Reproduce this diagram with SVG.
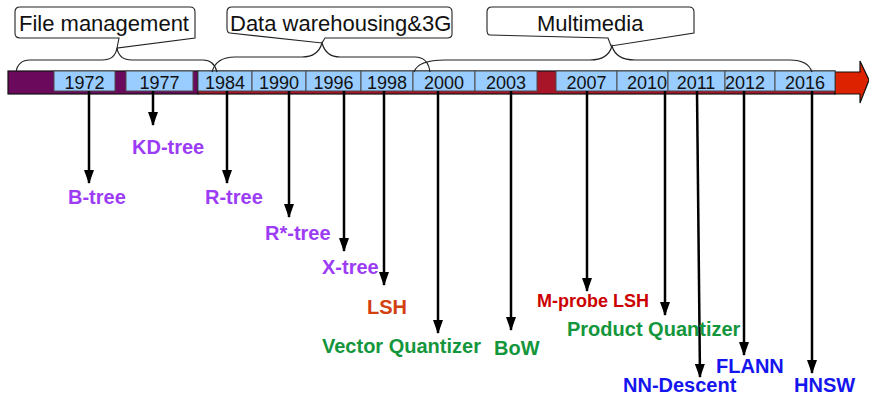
<svg xmlns="http://www.w3.org/2000/svg" width="869" height="396" viewBox="0 0 869 396">
<style>
.yr{fill:#99ccff;stroke:#4a4a4a;stroke-width:1}
.yt{font-family:"Liberation Sans",Arial,sans-serif;font-size:18px;fill:#111;text-anchor:middle}
.ct{font-family:"Liberation Sans",Arial,sans-serif;font-size:22px;fill:#111}
.cb{fill:#fff;stroke:#222;stroke-width:1.1}
.br{fill:none;stroke:#222;stroke-width:1.2}
.lb{font-family:"Liberation Sans",Arial,sans-serif;font-size:20px;font-weight:bold}
.pu{fill:#9c3cf5}.or{fill:#d2400f}.rd{fill:#cc0000}.gr{fill:#14963c}.bl{fill:#1515ee}
.cn{stroke:#000;stroke-width:2.5;fill:none;marker-end:url(#ah)}
</style>
<defs>
<marker id="ah" markerUnits="userSpaceOnUse" markerWidth="14" markerHeight="10" refX="13" refY="5" orient="auto" viewBox="0 0 14 10">
<path d="M0,0 L14,5 L0,10 Z" fill="#000"/>
</marker>
</defs>
<g id="timeline">
<rect x="8" y="71" width="190" height="23" fill="#6b0a5c" stroke="#111" stroke-width="1.2"/>
<rect x="198" y="71" width="637" height="23" fill="#a81428" stroke="#111" stroke-width="1.2"/>
<path d="M835,72 H860 V61 L869,80 L860,103 V94 H835 Z" fill="#dd2200" stroke="#111" stroke-width="1.2"/>
</g>
<g id="years">
<g id="y1972"><rect class="yr" x="54" y="71" width="61" height="20"/><text class="yt" x="84.5" y="89">1972</text></g>
<g id="y1977"><rect class="yr" x="126" y="71" width="67" height="20"/><text class="yt" x="159.5" y="89">1977</text></g>
<g id="y1984"><rect class="yr" x="198" y="71" width="54" height="20"/><text class="yt" x="225" y="89">1984</text></g>
<g id="y1990"><rect class="yr" x="252" y="71" width="54" height="20"/><text class="yt" x="279" y="89">1990</text></g>
<g id="y1996"><rect class="yr" x="306" y="71" width="55" height="20"/><text class="yt" x="333.5" y="89">1996</text></g>
<g id="y1998"><rect class="yr" x="361" y="71" width="52" height="20"/><text class="yt" x="387" y="89">1998</text></g>
<g id="y2000"><rect class="yr" x="413" y="71" width="62" height="20"/><text class="yt" x="444" y="89">2000</text></g>
<g id="y2003"><rect class="yr" x="475" y="71" width="62" height="20"/><text class="yt" x="506" y="89">2003</text></g>
<g id="y2007"><rect class="yr" x="556" y="71" width="61" height="20"/><text class="yt" x="586.5" y="89">2007</text></g>
<g id="y2010"><rect class="yr" x="617" y="71" width="51" height="20"/><text class="yt" x="647" y="89">2010</text></g>
<g id="y2011"><rect class="yr" x="668" y="71" width="57" height="20"/><text class="yt" x="696" y="89">2011</text></g>
<g id="y2012"><rect class="yr" x="725" y="71" width="50" height="20"/><text class="yt" x="745" y="89">2012</text></g>
<g id="y2016"><rect class="yr" x="775" y="71" width="60" height="20"/><text class="yt" x="805" y="89">2016</text></g>
</g>
<g id="callout-file">
<path class="cb" d="M20,7 H190 Q195,7 195,12 V38 L117,48 L119,38 H20 Q15,38 15,33 V12 Q15,7 20,7 Z"/>
<text class="ct" x="19" y="31">File management</text>
<path class="br" d="M16,72 Q18,60 30,60 H102 Q115,60 117,48 Q119,60 132,60 H203 Q214,60 217,72"/>
</g>
<g id="callout-data">
<path class="cb" d="M232,7 H447 Q452,7 452,12 V34 Q452,38 447,38 H325 L322,43 L230,33 Q227,33 227,28 V12 Q227,7 232,7 Z"/>
<text class="ct" x="230" y="31">Data warehousing&amp;3G</text>
<path class="br" d="M212,72 Q216,57 235,57 H302 Q318,57 322,43 Q326,57 340,57 H415 Q428,57 430,72"/>
</g>
<g id="callout-multi">
<path class="cb" d="M492,7 H689 Q694,7 694,12 V33 L611,46 L608,38 L490,35 Q487,35 487,30 V12 Q487,7 492,7 Z"/>
<text class="ct" x="537" y="31">Multimedia</text>
<path class="br" d="M414,72 Q418,60 445,60 H590 Q608,60 612,46 Q616,60 635,60 H790 Q808,60 812,72"/>
</g>
<g id="connectors">
<line class="cn" x1="89" y1="91" x2="89" y2="183"/>
<line class="cn" x1="153" y1="91" x2="153" y2="125"/>
<line class="cn" x1="227" y1="91" x2="227" y2="183"/>
<line class="cn" x1="289" y1="91" x2="289" y2="217"/>
<line class="cn" x1="344" y1="91" x2="344" y2="251"/>
<line class="cn" x1="384" y1="91" x2="384" y2="285"/>
<line class="cn" x1="438" y1="91" x2="438" y2="333"/>
<line class="cn" x1="511" y1="91" x2="511" y2="330"/>
<line class="cn" x1="587" y1="91" x2="587" y2="291"/>
<line class="cn" x1="665" y1="91" x2="665" y2="315"/>
<line class="cn" x1="697" y1="91" x2="700" y2="377"/>
<line class="cn" x1="744" y1="91" x2="744" y2="355"/>
<line class="cn" x1="812" y1="91" x2="812" y2="373"/>
</g>
<g id="labels">
<g id="kd-tree"><text class="lb pu" x="132" y="154">KD-tree</text></g>
<g id="b-tree"><text class="lb pu" x="68" y="204">B-tree</text></g>
<g id="r-tree"><text class="lb pu" x="205" y="204">R-tree</text></g>
<g id="rstar-tree"><text class="lb pu" x="265" y="240">R*-tree</text></g>
<g id="x-tree"><text class="lb pu" x="322" y="274">X-tree</text></g>
<g id="lsh"><text class="lb or" x="367" y="314">LSH</text></g>
<g id="vq"><text class="lb gr" x="322" y="353">Vector Quantizer</text></g>
<g id="bow"><text class="lb gr" x="494" y="355">BoW</text></g>
<g id="mprobe"><text class="lb rd" x="537" y="307" style="font-size:18px">M-probe LSH</text></g>
<g id="pq"><text class="lb gr" x="567" y="336">Product Quantizer</text></g>
<g id="flann"><text class="lb bl" x="716" y="373">FLANN</text></g>
<g id="nn-descent"><text class="lb bl" x="623" y="392">NN-Descent</text></g>
<g id="hnsw"><text class="lb bl" x="794" y="392">HNSW</text></g>
</g>
</svg>
